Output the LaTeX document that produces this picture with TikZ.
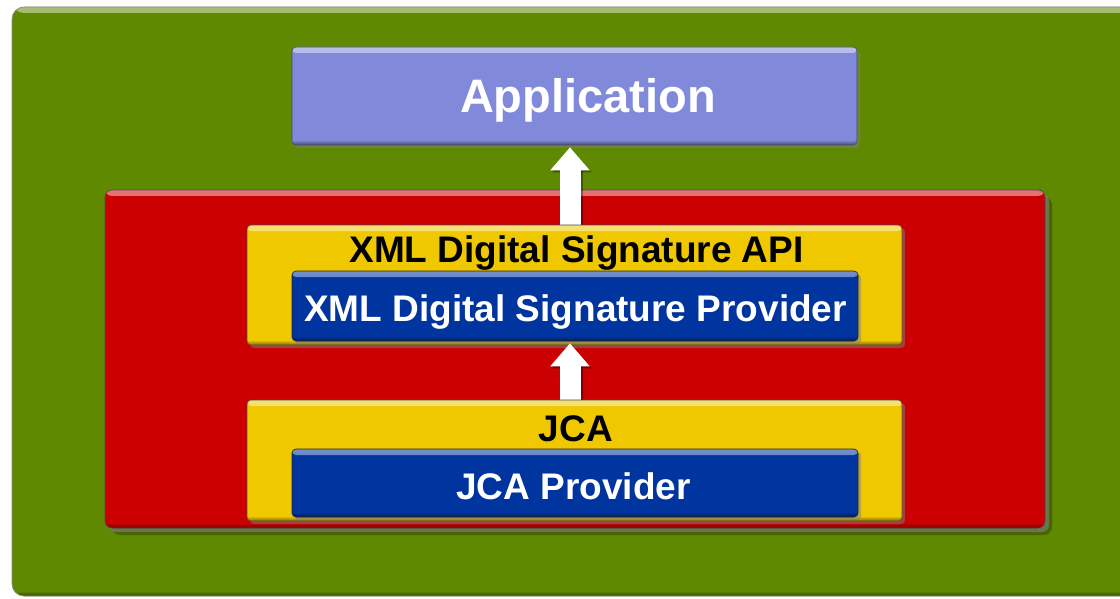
\documentclass[tikz,border=0pt]{standalone}
\usepackage{fontspec}
\setmainfont{Liberation Sans}
\usetikzlibrary{shadows,arrows.meta}
\definecolor{panelgreen}{RGB}{95,137,0}
\definecolor{layerred}{RGB}{204,0,0}
\definecolor{apiyellow}{RGB}{240,200,0}
\definecolor{provblue}{RGB}{0,52,158}
\definecolor{appviolet}{RGB}{128,137,218}
\begin{document}
\begin{tikzpicture}[x=1pt,y=-1pt,
  % flat box with a light top rim and a darker lower rim
  bevel/.style={fill=#1, draw=black!70, line width=0.6pt, rounded corners=4pt,
    inner sep=0pt,
    path picture={
      \shade[top color=#1!55!white, bottom color=#1]
        (path picture bounding box.north west)
        rectangle ([yshift=-6pt]path picture bounding box.north east);
      \shade[top color=#1, bottom color=#1!55!black]
        ([yshift=5pt]path picture bounding box.south west)
        rectangle (path picture bounding box.south east);
    }},
  castshadow/.style={drop shadow={opacity=0.5, shadow xshift=3pt, shadow yshift=-3pt}},
  label/.style={inner sep=0pt, anchor=base, font=\bfseries\fontsize{37}{37}\selectfont},
  uparrow/.style={white, line width=21pt,
    -{Triangle[width=38pt, length=23pt]}, shorten >=2pt},
  uparrowshade/.style={black, opacity=0.35, line width=21pt,
    -{Triangle[width=38pt, length=23pt]}, shorten >=2pt}
]
\useasboundingbox (0,0) rectangle (1120,599);
\clip (0,0) rectangle (1120,599);
\fill[white] (0,0) rectangle (1120,599);

% outer green panel
\node[bevel=panelgreen, draw=black!45, rounded corners=12pt,
      minimum width=1130pt, minimum height=589pt] (panel) at (577,301.5) {};

% application box
\node[bevel=appviolet, castshadow, minimum width=565pt, minimum height=98pt]
  (app) at (574.5,96) {};
\node[label, text=white, font=\bfseries\fontsize{47}{47}\selectfont]
  (apptxt) at (588,113) {Application};

% red security layer, with a heavier cast shadow
\node[fill=black, opacity=0.25, rounded corners=8pt,
      minimum width=940pt, minimum height=338pt] (layershade2) at (582,366) {};
\node[bevel=layerred, rounded corners=7pt,
      drop shadow={opacity=0.6, shadow xshift=4pt, shadow yshift=-4pt},
      minimum width=940pt, minimum height=338pt] (layer) at (575,359) {};

% arrow axis
\coordinate (axis) at (570,0);

% yellow boxes' positions are needed by the arrows, so fix them first
\path (574.5,285) coordinate (y1c) (574.5,460.5) coordinate (y2c);

% arrow from the signature API up to the application
\draw[uparrowshade] ([shift={(2,2)}]y1c |- 0,225 -| axis) -- ([shift={(2,2)}]app.south -| axis);
\draw[uparrow] (y1c |- 0,225 -| axis) -- (app.south -| axis);

% XML Digital Signature API box
\node[bevel=apiyellow, castshadow, minimum width=655pt, minimum height=120pt]
  (api) at (y1c) {};
\node[label] (apitxt) at (576.5,262) {XML Digital Signature API};

% XML Digital Signature Provider box
\node[bevel=provblue, draw=black!85, castshadow, minimum width=566pt, minimum height=70pt]
  (xmlprov) at (575,306) {};
\node[label, text=white] (xmlprovtxt) at (575.5,321) {XML Digital Signature Provider};

% arrow from JCA up to the signature provider
\draw[uparrowshade] ([shift={(2,2)}]y2c |- 0,401 -| axis) -- ([shift={(2,2)}]xmlprov.south -| axis);
\draw[uparrow] (y2c |- 0,401 -| axis) -- (xmlprov.south -| axis);

% JCA box
\node[bevel=apiyellow, castshadow, minimum width=655pt, minimum height=121pt]
  (jca) at (y2c) {};
\node[label] (jcatxt) at (576,441) {JCA};

% JCA Provider box
\node[bevel=provblue, draw=black!85, castshadow, minimum width=566pt, minimum height=68pt]
  (jcaprov) at (575,483) {};
\node[label, text=white] (jcaprovtxt) at (573.5,499) {JCA Provider};
\end{tikzpicture}
\end{document}
